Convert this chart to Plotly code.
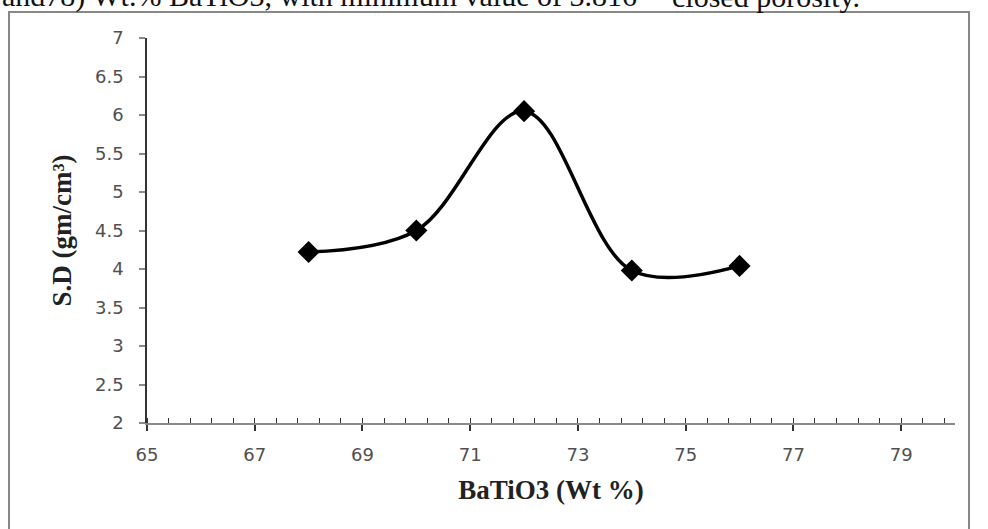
import plotly.graph_objects as go

batio3_wt = [68, 70, 72, 74, 76]
sd_values = [4.22, 4.50, 6.05, 3.98, 4.04]

x_ticks = [65, 67, 69, 71, 73, 75, 77, 79]
y_ticks = [2, 2.5, 3, 3.5, 4, 4.5, 5, 5.5, 6, 6.5, 7]

W, H = 988, 529
L, R, T, B = 147, 33, 38, 106
pw, ph = W - L - R, H - T - B

def px_x(p):
    return (p - L) / pw

def px_y(p):
    return (H - B - p) / ph

fig = go.Figure()
fig.add_trace(go.Scatter(
    x=batio3_wt, y=sd_values, mode="lines+markers",
    line=dict(color="black", width=3.5, shape="spline", smoothing=1.0),
    marker=dict(symbol="diamond", size=17, color="black"),
    showlegend=False,
))

tick_font = dict(family="DejaVu Sans", size=18, color="#505050")
title_font = dict(family="Liberation Serif", size=27, color="#222222")

fig.update_xaxes(
    range=[65, 80], tickvals=x_ticks, ticktext=[str(v) for v in x_ticks],
    showgrid=False, zeroline=False, showline=True, linecolor="#8a8a8a", linewidth=2,
    ticks="outside", ticklen=6, tickcolor="#333333", tickwidth=1.5,
    minor=dict(dtick=0.4, tick0=65, ticks="inside", ticklen=5, tickcolor="#333333", tickwidth=1),
    tickfont=tick_font, ticklabelstandoff=8,
    title=dict(text="<b>BaTiO3 (Wt %)</b>", font=title_font, standoff=17),
)
fig.update_yaxes(
    range=[2, 7], tickvals=y_ticks, ticktext=[f"{v:g}" for v in y_ticks],
    showgrid=False, zeroline=False, showline=True, linecolor="#333333", linewidth=1.5,
    ticks="outside", ticklen=6, tickcolor="#8a8a8a", tickwidth=1.5,
    tickfont=tick_font, ticklabelstandoff=12,
    title=dict(text="<b>S.D (gm/cm³)</b>", font=title_font, standoff=16),
)

fig.add_shape(type="rect", xref="paper", yref="paper",
              x0=px_x(9), x1=px_x(969), y0=px_y(545), y1=px_y(12),
              line=dict(color="#888888", width=2), fillcolor="rgba(0,0,0,0)")

top_font = dict(family="Liberation Serif", size=30, color="#111111")
fig.add_annotation(
    xref="paper", yref="paper", x=px_x(0), y=px_y(15), xanchor="left", yanchor="bottom",
    text="and78) Wt.% BaTiO3, with minimum value of 3.816",
    showarrow=False, font=top_font,
)
fig.add_annotation(
    xref="paper", yref="paper", x=px_x(670), y=px_y(15), xanchor="left", yanchor="bottom",
    text="closed porosity.",
    showarrow=False, font=top_font,
)

fig.update_layout(
    width=W, height=H, margin=dict(l=L, r=R, t=T, b=B, autoexpand=False),
    paper_bgcolor="white", plot_bgcolor="white",
)

fig.write_html("out.html", config={"displayModeBar": False},
               post_script="document.body.style.margin='0';")
